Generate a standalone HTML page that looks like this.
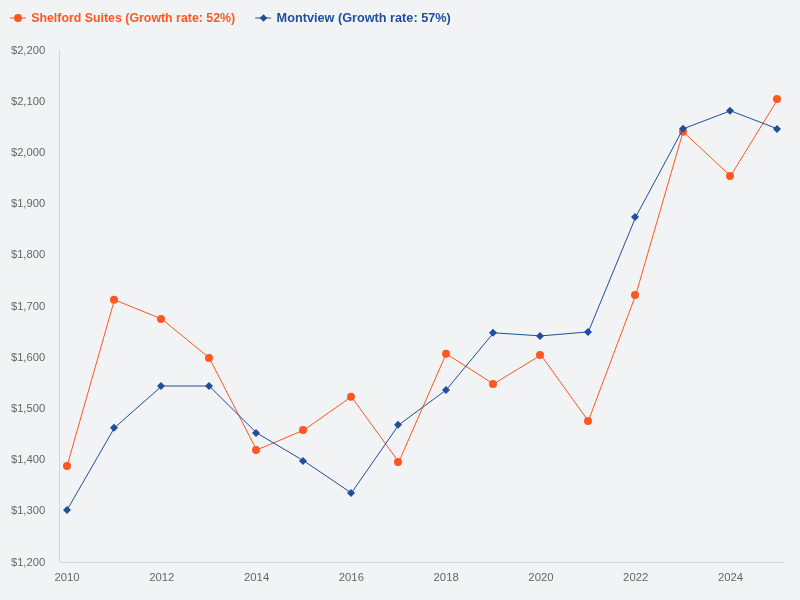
<!DOCTYPE html>
<html><head><meta charset="utf-8"><style>
html,body{margin:0;padding:0;background:#f2f3f5;}
svg{display:block;will-change:transform;}
text{font-family:"Liberation Sans",sans-serif;}
</style></head><body>
<svg width="800" height="600" viewBox="0 0 800 600">
<rect width="800" height="600" fill="#f2f3f5"/>
<g font-size="12.4" font-weight="bold">
<path d="M10 18 L26 18" stroke="#ff5722" stroke-width="1.0" fill="none"/>
<circle cx="18" cy="18" r="4" fill="#ff5722"/>
<text x="31.2" y="22.3" fill="#ff5722" textLength="204" lengthAdjust="spacingAndGlyphs">Shelford Suites (Growth rate: 52%)</text>
<path d="M255.3 18 L271.1 18" stroke="#1f4e9c" stroke-width="1.0" fill="none"/>
<path d="M263.5 14.2 L267.3 18 L263.5 21.8 L259.7 18Z" fill="#1f4e9c"/>
<text x="276.6" y="22.3" fill="#1f4e9c" textLength="174.2" lengthAdjust="spacingAndGlyphs">Montview (Growth rate: 57%)</text>
</g>
<path d="M59.5 50 L59.5 562" stroke="#ccd6eb" stroke-width="1" fill="none"/>
<path d="M60 562.5 L785 562.5" stroke="#ccd6eb" stroke-width="1" fill="none"/>
<g font-size="11" fill="#666666">
<text x="45.2" y="54" text-anchor="end" textLength="34.3" lengthAdjust="spacingAndGlyphs">$2,200</text>
<text x="45.2" y="105" text-anchor="end" textLength="34.3" lengthAdjust="spacingAndGlyphs">$2,100</text>
<text x="45.2" y="156" text-anchor="end" textLength="34.3" lengthAdjust="spacingAndGlyphs">$2,000</text>
<text x="45.2" y="207" text-anchor="end" textLength="34.3" lengthAdjust="spacingAndGlyphs">$1,900</text>
<text x="45.2" y="258" text-anchor="end" textLength="34.3" lengthAdjust="spacingAndGlyphs">$1,800</text>
<text x="45.2" y="310" text-anchor="end" textLength="34.3" lengthAdjust="spacingAndGlyphs">$1,700</text>
<text x="45.2" y="361" text-anchor="end" textLength="34.3" lengthAdjust="spacingAndGlyphs">$1,600</text>
<text x="45.2" y="412" text-anchor="end" textLength="34.3" lengthAdjust="spacingAndGlyphs">$1,500</text>
<text x="45.2" y="463" text-anchor="end" textLength="34.3" lengthAdjust="spacingAndGlyphs">$1,400</text>
<text x="45.2" y="514" text-anchor="end" textLength="34.3" lengthAdjust="spacingAndGlyphs">$1,300</text>
<text x="45.2" y="566" text-anchor="end" textLength="34.3" lengthAdjust="spacingAndGlyphs">$1,200</text>
<text x="67.05" y="581" text-anchor="middle" textLength="25.2" lengthAdjust="spacingAndGlyphs">2010</text>
<text x="161.83" y="581" text-anchor="middle" textLength="25.2" lengthAdjust="spacingAndGlyphs">2012</text>
<text x="256.61" y="581" text-anchor="middle" textLength="25.2" lengthAdjust="spacingAndGlyphs">2014</text>
<text x="351.39" y="581" text-anchor="middle" textLength="25.2" lengthAdjust="spacingAndGlyphs">2016</text>
<text x="446.17" y="581" text-anchor="middle" textLength="25.2" lengthAdjust="spacingAndGlyphs">2018</text>
<text x="540.95" y="581" text-anchor="middle" textLength="25.2" lengthAdjust="spacingAndGlyphs">2020</text>
<text x="635.73" y="581" text-anchor="middle" textLength="25.2" lengthAdjust="spacingAndGlyphs">2022</text>
<text x="730.51" y="581" text-anchor="middle" textLength="25.2" lengthAdjust="spacingAndGlyphs">2024</text>
</g>
<path d="M67.05 466 L114.44 299.8 L161.83 319 L209.22 357.9 L256.61 450 L304 430 L351.39 396.7 L398.78 462 L446.17 353.8 L493.56 384 L540.95 355 L588.34 421 L635.73 295 L683.12 131.7 L730.51 176 L777.9 99.1" stroke="#ff5722" stroke-width="1.0" fill="none" stroke-linejoin="round" stroke-linecap="round"/>
<g fill="#ff5722">
<circle cx="67" cy="466" r="4"/>
<circle cx="114" cy="299.8" r="4"/>
<circle cx="161" cy="319" r="4"/>
<circle cx="209" cy="357.9" r="4"/>
<circle cx="256" cy="450" r="4"/>
<circle cx="303" cy="430" r="4"/>
<circle cx="351" cy="396.7" r="4"/>
<circle cx="398" cy="462" r="4"/>
<circle cx="446" cy="353.8" r="4"/>
<circle cx="493" cy="384" r="4"/>
<circle cx="540" cy="355" r="4"/>
<circle cx="588" cy="421" r="4"/>
<circle cx="635" cy="295" r="4"/>
<circle cx="683" cy="131.7" r="4"/>
<circle cx="730" cy="176" r="4"/>
<circle cx="777" cy="99.1" r="4"/>
</g>
<path d="M67.05 510 L114.44 427.8 L161.83 386 L209.22 386 L256.61 432.9 L304 461 L351.39 493 L398.78 424.8 L446.17 390 L493.56 332.8 L540.95 335.9 L588.34 331.9 L635.73 217 L683.12 128.8 L730.51 110.8 L777.9 129" stroke="#1f4e9c" stroke-width="1.0" fill="none" stroke-linejoin="round" stroke-linecap="round"/>
<g fill="#1f4e9c">
<path d="M67 506 L71 510 L67 514 L63 510Z"/>
<path d="M114 423.8 L118 427.8 L114 431.8 L110 427.8Z"/>
<path d="M161 382 L165 386 L161 390 L157 386Z"/>
<path d="M209 382 L213 386 L209 390 L205 386Z"/>
<path d="M256 428.9 L260 432.9 L256 436.9 L252 432.9Z"/>
<path d="M303 457 L307 461 L303 465 L299 461Z"/>
<path d="M351 489 L355 493 L351 497 L347 493Z"/>
<path d="M398 420.8 L402 424.8 L398 428.8 L394 424.8Z"/>
<path d="M446 386 L450 390 L446 394 L442 390Z"/>
<path d="M493 328.8 L497 332.8 L493 336.8 L489 332.8Z"/>
<path d="M540 331.9 L544 335.9 L540 339.9 L536 335.9Z"/>
<path d="M588 327.9 L592 331.9 L588 335.9 L584 331.9Z"/>
<path d="M635 213 L639 217 L635 221 L631 217Z"/>
<path d="M683 124.8 L687 128.8 L683 132.8 L679 128.8Z"/>
<path d="M730 106.8 L734 110.8 L730 114.8 L726 110.8Z"/>
<path d="M777 125 L781 129 L777 133 L773 129Z"/>
</g>
</svg>
</body></html>
